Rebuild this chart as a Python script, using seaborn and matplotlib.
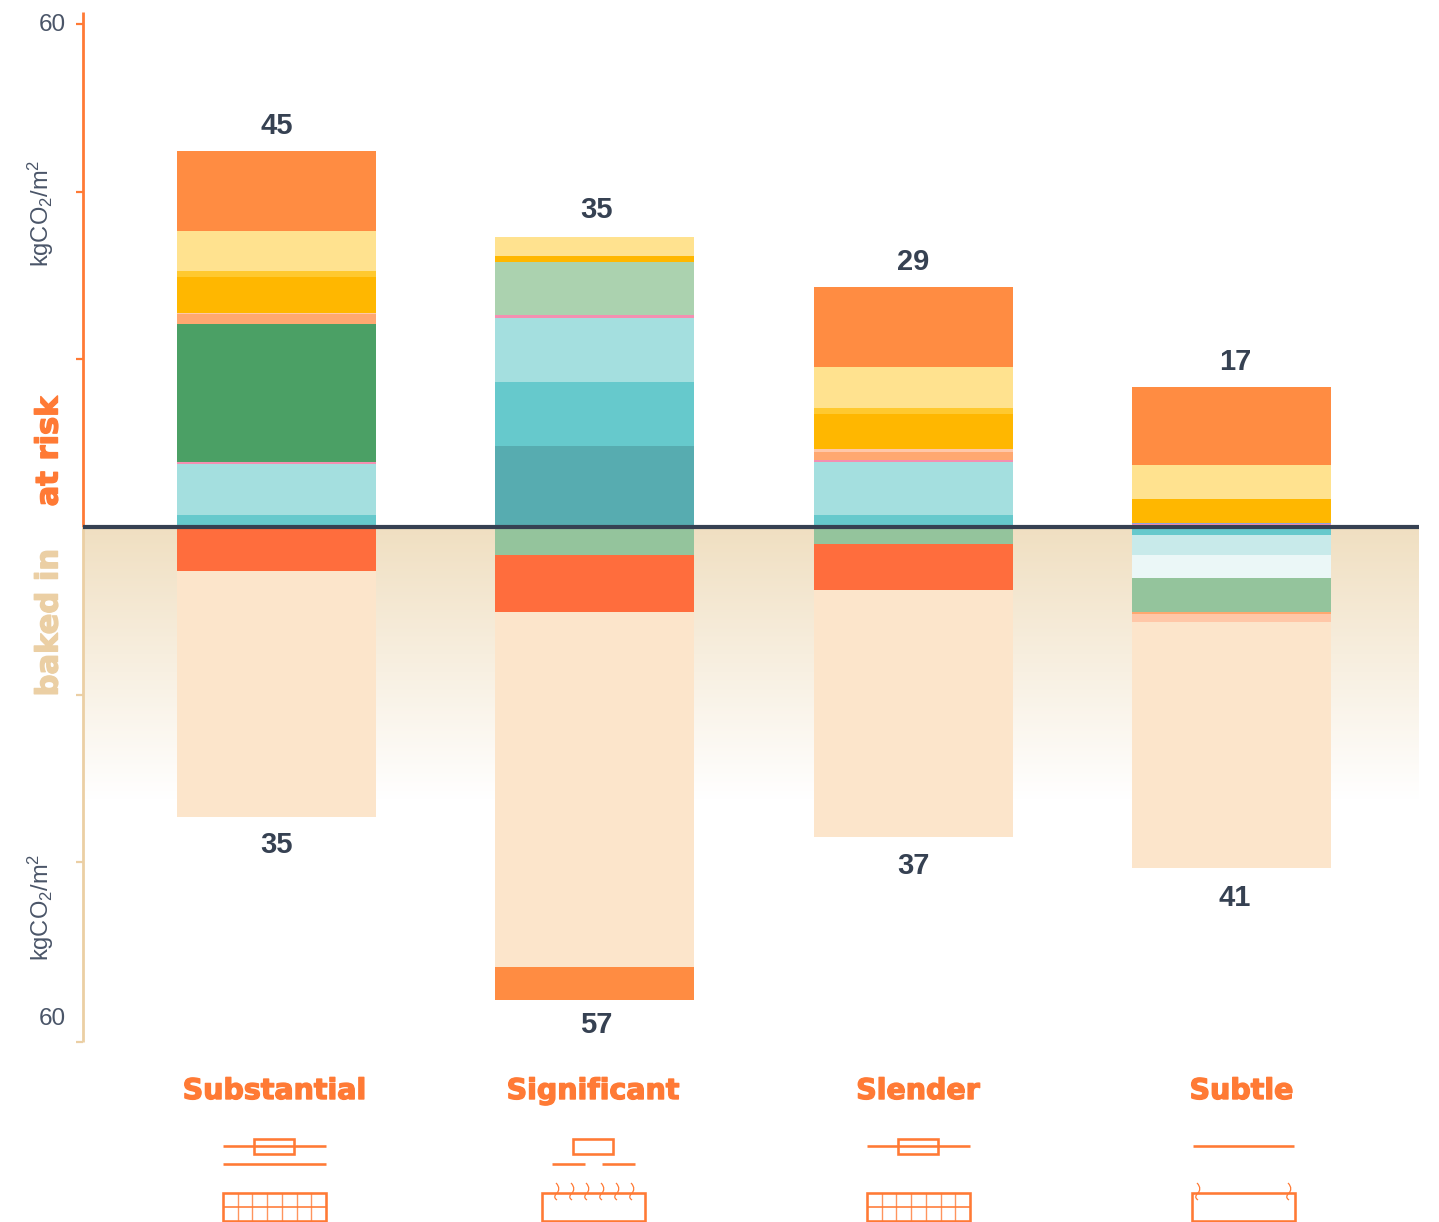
import numpy as np
import matplotlib
matplotlib.use('Agg')
import matplotlib.pyplot as plt
import matplotlib.patheffects as pe
from matplotlib.colors import LinearSegmentedColormap
from matplotlib.patches import PathPatch, Rectangle
from matplotlib.path import Path
import seaborn as sns

categories = ['Substantial', 'Significant', 'Slender', 'Subtle']
totals_up = [45, 35, 29, 17]
totals_down = [35, 57, 37, 41]

# at risk, from the zero line upwards
up_dark_teal = [0, 9.7, 0, 0]
up_teal = [1.4, 7.6, 1.4, 0]
up_light_teal = [6.1, 7.6, 6.3, 0]
up_pink = [0.3, 0.4, 0.3, 0.3]
up_periwinkle = [0, 0, 0, 0.2]
up_pale_green = [0, 6.3, 0, 0]
up_green = [16.4, 0, 0, 0]
up_salmon = [1.2, 0, 1.0, 0]
up_pale_salmon = [0.1, 0, 0.25, 0]
up_amber = [4.3, 0.7, 4.2, 2.9]
up_mid_yellow = [0.7, 0, 0.8, 0]
up_light_yellow = [4.85, 2.35, 4.8, 4.0]
up_orange = [9.55, 0, 9.6, 9.3]

# baked in, from the zero line downwards
down_teal = [0, 0, 0, 1.0]
down_pale_teal = [0, 0, 0, 2.4]
down_palest_teal = [0, 0, 0, 2.7]
down_sage = [0, 3.3, 2.0, 4.1]
down_red = [5.25, 6.8, 5.5, 0]
down_salmon = [0, 0, 0, 0.2]
down_pale_salmon = [0, 0, 0, 0.9]
down_peach = [29.4, 42.4, 29.5, 29.4]
down_orange = [0, 3.9, 0, 0]

up_series = [
    (up_dark_teal, '#57ACB0'), (up_teal, '#66C9CC'), (up_light_teal, '#A4DFDF'),
    (up_pink, '#F48FB1'), (up_periwinkle, '#8FA0E0'), (up_pale_green, '#ABD2AF'),
    (up_green, '#4BA065'), (up_salmon, '#FFA870'), (up_pale_salmon, '#FFC7A8'),
    (up_amber, '#FFB700'), (up_mid_yellow, '#FFC92F'), (up_light_yellow, '#FFE28F'),
    (up_orange, '#FF8C42'),
]
down_series = [
    (down_teal, '#66C9CC'), (down_pale_teal, '#C8EAEA'), (down_palest_teal, '#EBF7F7'),
    (down_sage, '#94C49C'), (down_red, '#FF6D3D'), (down_salmon, '#FFA870'),
    (down_pale_salmon, '#FFC7A8'), (down_peach, '#FCE5CB'), (down_orange, '#FF8C42'),
]

ORANGE = '#FF7A35'
TAN = '#EBCFA4'
SLATE = '#364152'
GREY = '#4A5568'
W, H = 1439, 1222

sns.set_theme(style='white')
plt.rcParams['font.family'] = ['Liberation Sans', 'DejaVu Sans']
plt.rcParams['mathtext.default'] = 'regular'

fig = plt.figure(figsize=(W / 100, H / 100), dpi=100)
ax = fig.add_axes([83 / W, (H - 1042) / H, (1419 - 83) / W, (1042 - 12) / H])
ax.patch.set_alpha(0)

# stacked bars
bottom = np.zeros(4)
for values, color in up_series:
    sns.barplot(x=categories, y=values, bottom=bottom, color=color, width=0.625,
                saturation=1, linewidth=0, errorbar=None, ax=ax, zorder=2)
    bottom = bottom + np.array(values)
tops = bottom

bottom = np.zeros(4)
for values, color in down_series:
    neg = -np.array(values)
    sns.barplot(x=categories, y=neg, bottom=bottom, color=color, width=0.625,
                saturation=1, linewidth=0, errorbar=None, ax=ax, zorder=2)
    bottom = bottom + neg
bottoms = bottom

x0, x1 = -0.608, 3.589

# tan fade behind the lower half
fade = LinearSegmentedColormap.from_list('fade', ['#F0DFC1', '#FFFFFF'])
ax.imshow(np.linspace(0, 1, 256).reshape(-1, 1), cmap=fade, aspect='auto',
          extent=(x0, x1, -32.6, 0), zorder=0)
ax.set_xlim(x0, x1)
ax.set_ylim(-61.45, 61.45)

sns.despine(ax=ax, left=True, bottom=True, right=True, top=True)
ax.set_xticks([])
ax.set_xlabel('')
ax.set_yticks([60, 40, 20, -20, -40, -61.45])
ax.set_yticklabels([])
ax.tick_params(axis='y', left=True, length=5, width=1.6)
for tick, val in zip(ax.yaxis.get_major_ticks(), ax.get_yticks()):
    tick.tick1line.set_markeredgecolor(ORANGE if val > 0 else TAN)

ax.plot([x0, x0], [0, 61.45], color=ORANGE, lw=2, clip_on=False, zorder=3, solid_capstyle='butt')
ax.plot([x0, x0], [0, -61.45], color=TAN, lw=2, clip_on=False, zorder=3, solid_capstyle='butt')
ax.axhline(0, color=SLATE, lw=3, zorder=4)

# small nudges so the totals sit where they do in the original
up_nudge = [(0.5, 17.6), (1, 18.8), (0, 17.6), (3, 18.2)]
down_nudge = [(0, -19.8), (1, -18), (0, -21), (2, -21.4)]
for i in range(4):
    ax.annotate(str(totals_up[i]), (i, tops[i]), xytext=up_nudge[i], textcoords='offset points',
                ha='center', va='center', fontsize=21, fontweight='bold', color=SLATE)
    ax.annotate(str(totals_down[i]), (i, bottoms[i]), xytext=down_nudge[i], textcoords='offset points',
                ha='center', va='center', fontsize=21, fontweight='bold', color=SLATE)

# everything outside the plot, in pixels
ov = fig.add_axes([0, 0, 1, 1])
ov.set_xlim(0, W)
ov.set_ylim(H, 0)
ov.axis('off')
ov.patch.set_alpha(0)

for y in (25, 1019):
    ov.text(66, y, '60', ha='right', va='center', fontsize=17.5, color=GREY)
for y in (213, 907):
    ov.text(41, y, 'kgCO$_2$/m$^2$', rotation=90, ha='center', va='center', fontsize=17, color=GREY)

heavy = dict(fontfamily='DejaVu Sans', fontweight='bold', fontsize=20.5)
for txt, y, col in (('at risk', 451.5, ORANGE), ('baked in', 623, TAN)):
    t = ov.text(49, y, txt, rotation=90, ha='center', va='center', color=col,
                fontfamily='DejaVu Sans', fontweight='bold', fontsize=22)
    t.set_path_effects([pe.withStroke(linewidth=1.0, foreground=col)])

for name, x in zip(categories, (274.5, 593, 918, 1241.5)):
    t = ov.text(x, 1091, name, ha='center', va='center', color=ORANGE, **heavy)
    t.set_path_effects([pe.withStroke(linewidth=1.0, foreground=ORANGE)])


def seg(xa, xb, y, lw=2.6):
    ov.plot([xa, xb], [y, y], color=ORANGE, lw=lw * 0.72, solid_capstyle='butt')


def box(xa, ya, xb, yb, lw=2.6):
    ov.add_patch(Rectangle((xa, ya), xb - xa, yb - ya, fill=False, ec=ORANGE, lw=lw * 0.72))


def grid_box(xa):
    box(xa, 1193, xa + 103, 1221)
    for k in range(1, 7):
        xk = xa + k * 103 / 7
        ov.plot([xk, xk], [1193, 1221], color=ORANGE, lw=1.0, alpha=0.8)
    seg(xa, xa + 103, 1207, 1.6)


def squiggle(x):
    verts = [(x - 1, 1183), (x + 3, 1187), (x + 2, 1191), (x, 1193),
             (x - 3, 1196), (x - 3, 1198), (x, 1200)]
    codes = [Path.MOVETO] + [Path.CURVE4] * 6
    ov.add_patch(PathPatch(Path(verts, codes), fill=False, ec=ORANGE, lw=0.9))


# Substantial
seg(223, 326, 1146)
box(254, 1139, 294, 1153.5)
seg(223, 326, 1163.5)
grid_box(223)
# Significant
box(573, 1139, 613, 1153.5)
seg(552, 585, 1163.5)
seg(602, 635, 1163.5)
box(541.5, 1193, 644.5, 1221)
for x in (557, 572, 587, 602, 617, 632):
    squiggle(x)
# Slender
seg(867, 970, 1146)
box(897.5, 1139, 937.5, 1153.5)
grid_box(867)
# Subtle
seg(1193, 1294, 1146)
box(1192, 1193, 1295, 1221)
for x in (1198, 1289):
    squiggle(x)

fig.savefig('out.png', dpi=100)
